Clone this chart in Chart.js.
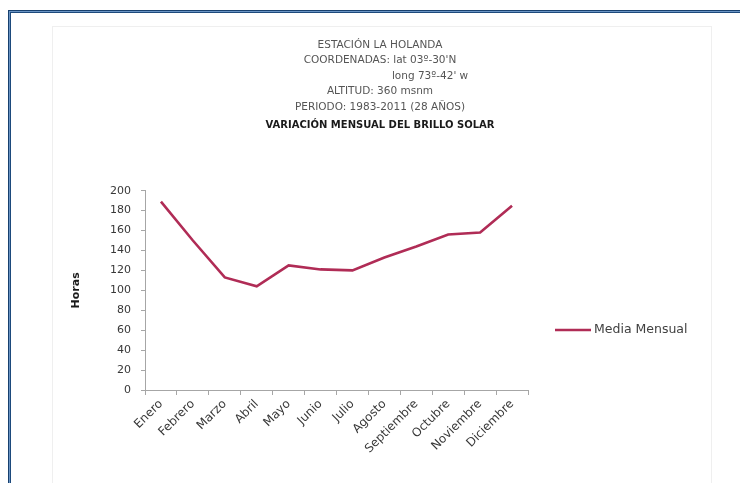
<!DOCTYPE html>
<html>
<head>
<meta charset="utf-8">
<script src="https://cdn.jsdelivr.net/npm/chart.js@4.4.1/dist/chart.umd.min.js"></script>
<style>
  html, body { margin: 0; padding: 0; background: #fff; overflow: hidden; }
  body { width: 740px; height: 483px; position: relative; }
  .frame {
    position: absolute; left: 8px; top: 10px; width: 900px; height: 700px;
    border-top: 1px solid #17406e; border-left: 1px solid #17406e;
    box-shadow: inset 1px 1px 0 #6a94c4, inset 2px 2px 0 #1d4a7c;
  }
  .sheet {
    position: absolute; left: 52px; top: 26px; width: 658px; height: 600px;
    border: 1px solid #efefef;
  }
  #wrap { position: absolute; left: 0; top: 0; width: 740px; height: 483px; }
  #chart { display: block; width: 740px; height: 483px; }
</style>
</head>
<body>
<div class="frame"></div>
<div class="sheet"></div>
<div id="wrap"><canvas id="chart" width="740" height="483"></canvas></div>
<script>
// Brillo solar: media mensual (horas), estación La Holanda 1983-2011
const months = ['Enero', 'Febrero', 'Marzo', 'Abril', 'Mayo', 'Junio', 'Julio',
                'Agosto', 'Septiembre', 'Octubre', 'Noviembre', 'Diciembre'];
const mediaMensual = [189, 150, 113, 104, 125, 121, 120, 133, 144, 156, 158, 185];
const yTicks = [0, 20, 40, 60, 80, 100, 120, 140, 160, 180, 200];

const headerLines = [
  'ESTACIÓN LA HOLANDA',
  "COORDENADAS: lat 03º-30'N",
  "long 73º-42' w".padStart(44, ' '),
  'ALTITUD: 360 msnm',
  'PERIODO: 1983-2011 (28 AÑOS)'
];
const headerBold = 'VARIACIÓN MENSUAL DEL BRILLO SOLAR';
const seriesName = 'Media Mensual';
const axisTitle = 'Horas';

const lineColor = '#b02c56';
const FONT = "'DejaVu Sans', sans-serif";

// legend drawn beside the plot, in the space kept free on the right
const sideLegend = {
  id: 'sideLegend',
  afterDraw(chart) {
    const ctx = chart.ctx;
    const y = 330;
    ctx.save();
    ctx.strokeStyle = lineColor;
    ctx.lineWidth = 2.5;
    ctx.beginPath();
    ctx.moveTo(555, y);
    ctx.lineTo(591, y);
    ctx.stroke();
    ctx.fillStyle = '#404040';
    ctx.font = '12.5px ' + FONT;
    ctx.textBaseline = 'middle';
    ctx.fillText(seriesName, 594, y);
    ctx.restore();
  }
};

new Chart(document.getElementById('chart'), {
  type: 'line',
  data: {
    labels: months,
    datasets: [{
      label: seriesName,
      data: mediaMensual,
      borderColor: lineColor,
      backgroundColor: lineColor,
      borderWidth: 2.6,
      pointRadius: 0,
      tension: 0,
      yAxisID: 'y'
    }]
  },
  options: {
    responsive: false,
    animation: false,
    devicePixelRatio: 1,
    layout: { padding: { left: 70, right: 50, top: 0, bottom: 0 } },
    plugins: {
      legend: { display: false },
      tooltip: { enabled: false },
      title: {
        display: true,
        text: headerLines,
        color: '#555555',
        font: { family: FONT, size: 10.5, weight: 'normal', lineHeight: 1.48 },
        padding: { top: 37, bottom: 0 }
      },
      subtitle: {
        display: true,
        text: headerBold,
        color: '#1a1a1a',
        font: { family: FONT, size: 10, weight: 'bold', lineHeight: 1.2 },
        padding: { top: 5, bottom: 59 }
      }
    },
    scales: {
      x: {
        offset: true,
        grid: { display: true, offset: true, drawOnChartArea: false, tickLength: 5, color: '#a6a6a6' },
        border: { display: true, color: '#a6a6a6', width: 1 },
        ticks: {
          color: '#383838',
          font: { family: FONT, size: 12 },
          minRotation: 45, maxRotation: 45,
          autoSkip: false,
          padding: 2
        },
        afterFit(scale) { scale.height = 93; }
      },
      y: {
        position: 'left',
        min: 0, max: 200,
        afterBuildTicks(scale) { scale.ticks = yTicks.map(v => ({ value: v })); },
        grid: { display: true, drawOnChartArea: false, tickLength: 4, color: '#a6a6a6' },
        border: { display: true, color: '#a6a6a6', width: 1 },
        ticks: { color: '#383838', font: { family: FONT, size: 11 }, padding: 10 },
        title: {
          display: true,
          text: axisTitle,
          color: '#1a1a1a',
          font: { family: FONT, size: 11, weight: 'bold', lineHeight: 1.2 },
          padding: 0
        },
        afterFit(scale) { scale.width = 75; }
      },
      side: {
        type: 'linear',
        position: 'right',
        display: true,
        grid: { display: false },
        border: { display: false },
        ticks: { display: false },
        afterFit(scale) { scale.width = 162; }
      }
    }
  },
  plugins: [sideLegend]
});
</script>
</body>
</html>
